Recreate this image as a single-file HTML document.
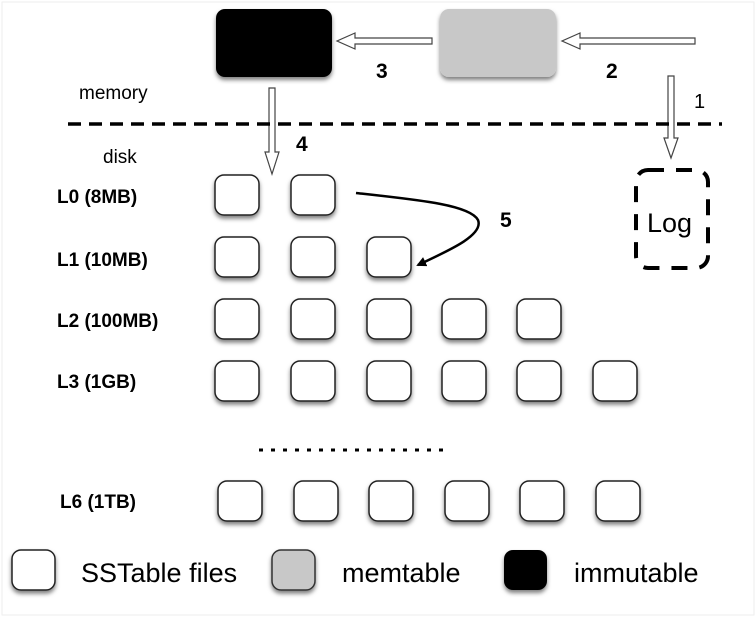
<!DOCTYPE html>
<html><head><style>
body{margin:0;background:#fff;}
svg{display:block;font-family:"Liberation Sans",sans-serif;}
</style></head><body>
<svg width="756" height="621" viewBox="0 0 756 621" xmlns="http://www.w3.org/2000/svg">
<defs>
<filter id="sh" x="-30%" y="-30%" width="160%" height="170%"><feDropShadow dx="0" dy="3" stdDeviation="2" flood-color="#000" flood-opacity="0.5"/></filter>
<marker id="ah" markerWidth="10" markerHeight="10" refX="8" refY="5" orient="auto" markerUnits="userSpaceOnUse"><path d="M0,0 L10,5 L0,10 Z" fill="#000"/></marker>
</defs>
<rect x="2" y="2" width="752" height="613" fill="#fff" stroke="#eee"/>
<rect x="216" y="9" width="116" height="68" rx="9" fill="#000" filter="url(#sh)"/>
<rect x="440" y="9" width="116" height="68" rx="9" fill="#c8c8c8" filter="url(#sh)"/>
<path d="M695,38 L580,38 L580,33 L562,41 L580,49 L580,44 L695,44 Z" fill="#fff" stroke="#444" stroke-width="1.2"/>
<path d="M432,38 L355,38 L355,33 L337,41 L355,49 L355,44 L432,44 Z" fill="#fff" stroke="#444" stroke-width="1.2"/>
<path d="M269,88 L275,88 L275,152 L279,152 L272,174 L265,152 L269,152 Z" fill="#fff" stroke="#444" stroke-width="1.2"/>
<path d="M668,76 L674,76 L674,138 L678,138 L671,158 L664,138 L668,138 Z" fill="#fff" stroke="#444" stroke-width="1.2"/>
<line x1="68" y1="124" x2="722" y2="124" stroke="#000" stroke-width="3.5" stroke-dasharray="13,8"/>
<text x="79" y="99" font-size="19">memory</text>
<text x="103" y="163" font-size="19">disk</text>
<g font-size="21" font-weight="bold">
<text x="376" y="78">3</text><text x="606" y="78">2</text><text x="296" y="151">4</text><text x="500" y="227">5</text>
</g>
<text x="694" y="108" font-size="20">1</text>
<rect x="636" y="170" width="72" height="98" rx="12" fill="none" stroke="#000" stroke-width="4" stroke-dasharray="16,12"/>
<text x="647" y="232" font-size="27">Log</text>
<g font-size="19" font-weight="bold">
<text x="57" y="203">L0 (8MB)</text>
<text x="57" y="266">L1 (10MB)</text>
<text x="57" y="327">L2 (100MB)</text>
<text x="57" y="388">L3 (1GB)</text>
<text x="60" y="508">L6 (1TB)</text>
</g>
<g fill="#fff" stroke="#222" stroke-width="1.5" filter="url(#sh)">
<rect x="215" y="175" width="44" height="40" rx="9"/><rect x="291" y="175" width="44" height="40" rx="9"/>
<rect x="215" y="237" width="44" height="40" rx="9"/><rect x="291" y="237" width="44" height="40" rx="9"/><rect x="367" y="237" width="44" height="40" rx="9"/>
<rect x="215" y="299" width="44" height="40" rx="9"/><rect x="291" y="299" width="44" height="40" rx="9"/><rect x="367" y="299" width="44" height="40" rx="9"/><rect x="442" y="299" width="44" height="40" rx="9"/><rect x="517" y="299" width="44" height="40" rx="9"/>
<rect x="215" y="361" width="44" height="40" rx="9"/><rect x="291" y="361" width="44" height="40" rx="9"/><rect x="367" y="361" width="44" height="40" rx="9"/><rect x="442" y="361" width="44" height="40" rx="9"/><rect x="517" y="361" width="44" height="40" rx="9"/><rect x="593" y="361" width="44" height="40" rx="9"/>
<rect x="218" y="481" width="44" height="40" rx="9"/><rect x="294" y="481" width="44" height="40" rx="9"/><rect x="369" y="481" width="44" height="40" rx="9"/><rect x="445" y="481" width="44" height="40" rx="9"/><rect x="520" y="481" width="44" height="40" rx="9"/><rect x="596" y="481" width="44" height="40" rx="9"/>
<rect x="12" y="550" width="43" height="40" rx="9"/>
</g>
<path d="M356,193 C420,200 470,205 478,220 C484,235 450,250 418,265" fill="none" stroke="#000" stroke-width="2.5" marker-end="url(#ah)"/>
<line x1="259" y1="450" x2="448" y2="450" stroke="#000" stroke-width="3" stroke-dasharray="4,8"/>
<rect x="272" y="550" width="43" height="40" rx="9" fill="#c8c8c8" stroke="#333" stroke-width="1.5" filter="url(#sh)"/>
<rect x="504" y="550" width="43" height="40" rx="9" fill="#000" filter="url(#sh)"/>
<g font-size="27">
<text x="81" y="582">SSTable files</text>
<text x="342" y="582">memtable</text>
<text x="574" y="582">immutable</text>
</g>
</svg>
</body></html>
